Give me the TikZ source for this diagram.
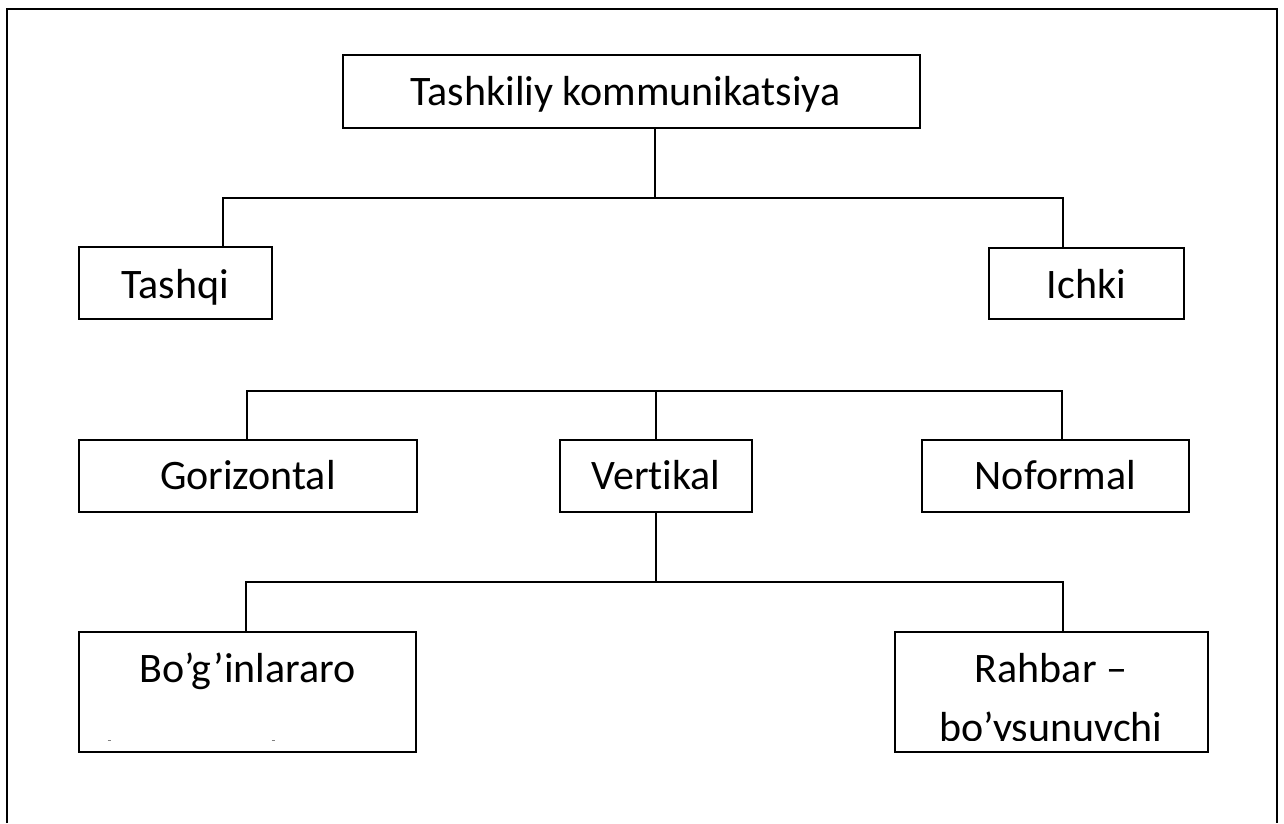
\documentclass[tikz,border=0pt]{standalone}
\usepackage{fontspec}
\setmainfont{Carlito}[Ligatures=NoCommon]
\begin{document}
\begin{tikzpicture}[x=1pt,y=-1pt,
  box/.style={draw, line width=1.8pt, inner sep=0pt, anchor=north west,
    font=\fontsize{42}{50}\selectfont},
  conn/.style={line width=1.8pt},
  frame/.style={line width=2.6pt},
  txt/.style={inner sep=0pt, font=\fontsize{42}{50}\selectfont, anchor=base}]
\useasboundingbox (0,0) rectangle (1284,823);
\draw[frame] (7,823) -- (7,9) -- (1277,9) -- (1277,823);

\node[box, minimum width=577pt, minimum height=73pt, text height=51pt, text depth=22pt] (top) at (342,54) {\hspace*{-12pt}Tashkiliy kommunikatsiya};
\node[box, minimum width=193pt, minimum height=72pt, text height=52pt, text depth=20pt] (tashqi) at (78,246) {Tashqi};
\node[box, minimum width=195pt, minimum height=71pt, text height=51pt, text depth=20pt] (ichki) at (988,247) {Ichki};
\node[box, minimum width=338pt, minimum height=72pt, text height=50pt, text depth=22pt] (gor) at (78,439) {Gorizontal};
\node[box, minimum width=192pt, minimum height=72pt, text height=50pt, text depth=22pt] (vert) at (559,439) {Vertikal};
\node[box, minimum width=267pt, minimum height=72pt, text height=50pt, text depth=22pt] (nof) at (921,439) {Noformal};
\node[box, minimum width=337pt, minimum height=120pt, text height=51pt, text depth=69pt] (bog) at (78,631) {Bo’g’inlararo};
\node[box, minimum width=313pt, minimum height=120pt] (rah) at (894,631) {};
\begin{scope}
  \clip (894,631) rectangle (1207,740);
  \node[txt] (rah1) at (1051,682) {Rahbar –};
  \node[txt] (rah2) at (1051,741) {bo’ysunuvchi};
\end{scope}
\draw[line width=1pt, gray] (107.5,740) -- (110.5,740);
\draw[line width=1pt, gray] (271.5,740) -- (274.5,740);

\coordinate (j1) at (655,198);
\coordinate (jl1) at (223,198);
\coordinate (jr1) at (1063,198);
\draw[conn] (top.south -| j1) -- (j1);
\draw[conn] (tashqi.north -| jl1) -- (jl1) -- (jr1) -- (ichki.north -| jr1);

\coordinate (jl2) at (247,391);
\coordinate (jr2) at (1062,391);
\draw[conn] (gor.north -| jl2) -- (jl2) -- (jr2) -- (nof.north -| jr2);
\draw[conn] (vert.north) -- (vert.north |- jl2);

\coordinate (jl3) at (246,582);
\coordinate (jr3) at (1063,582);
\draw[conn] (vert.south) -- (vert.south |- jl3);
\draw[conn] (bog.north -| jl3) -- (jl3) -- (jr3) -- (rah.north -| jr3);
\end{tikzpicture}
\end{document}
